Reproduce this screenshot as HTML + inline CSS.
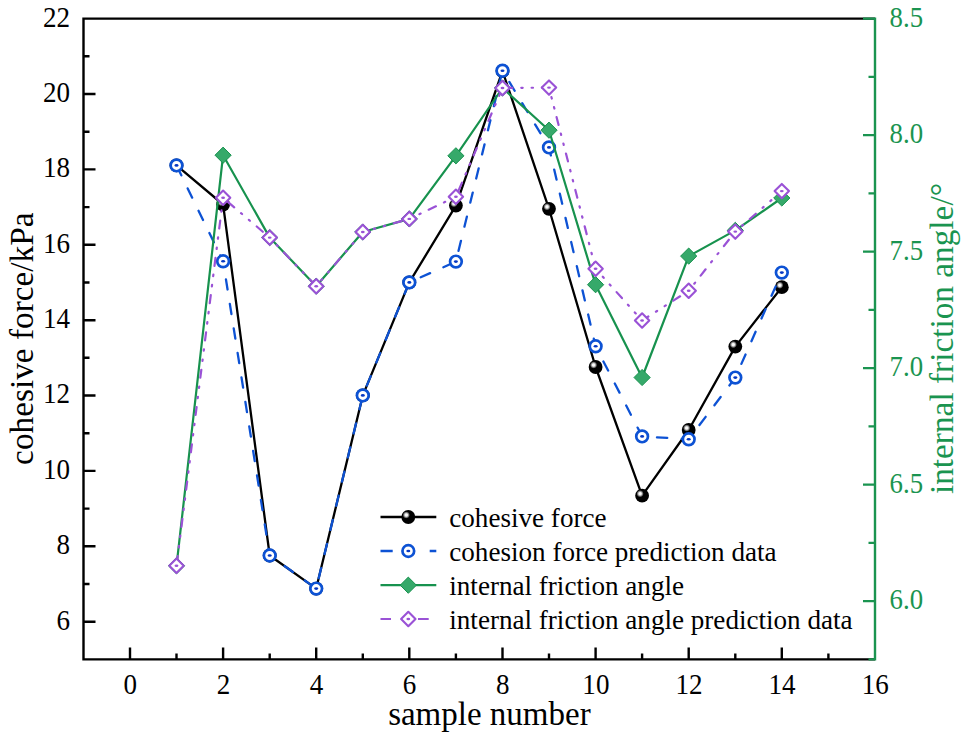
<!DOCTYPE html><html><head><meta charset="utf-8"><style>html,body{margin:0;padding:0;background:#fff;}svg{display:block;}</style></head><body>
<svg width="968" height="739" viewBox="0 0 968 739" font-family="Liberation Serif, serif">
<defs><radialGradient id="ball" cx="0.355" cy="0.355" r="0.26" fx="0.355" fy="0.355"><stop offset="0" stop-color="#fff"/><stop offset="0.35" stop-color="#f2f2f2"/><stop offset="0.7" stop-color="#7a7a7a"/><stop offset="1" stop-color="#000"/></radialGradient></defs>
<rect width="968" height="739" fill="#fff"/>
<path d="M82.3 18.6H875.0M83.5 18.6V659.4M82.3 659.4H875.0" stroke="#000" stroke-width="2.4" fill="none"/>
<path d="M83.5 621.7h12 M83.5 584.0h6 M83.5 546.3h12 M83.5 508.6h6 M83.5 470.9h12 M83.5 433.2h6 M83.5 395.5h12 M83.5 357.8h6 M83.5 320.2h12 M83.5 282.5h6 M83.5 244.8h12 M83.5 207.1h6 M83.5 169.4h12 M83.5 131.7h6 M83.5 94.0h12 M83.5 56.3h6 M130.0 659.4v-12 M176.5 659.4v-6 M223.1 659.4v-12 M269.7 659.4v-6 M316.2 659.4v-12 M362.8 659.4v-6 M409.3 659.4v-12 M455.9 659.4v-6 M502.5 659.4v-12 M549.0 659.4v-6 M595.6 659.4v-12 M642.1 659.4v-6 M688.7 659.4v-12 M735.3 659.4v-6 M781.8 659.4v-12 M828.4 659.4v-6" stroke="#000" stroke-width="2.4" fill="none"/>
<path d="M875.0 17.400000000000002V660.6 M875.0 659.4h-6.5 M875.0 601.1h-12 M875.0 542.9h-6.5 M875.0 484.6h-12 M875.0 426.4h-6.5 M875.0 368.1h-12 M875.0 309.9h-6.5 M875.0 251.6h-12 M875.0 193.4h-6.5 M875.0 135.1h-12 M875.0 76.9h-6.5 M875.0 18.6h-12" stroke="#1a9450" stroke-width="2.4" fill="none"/>
<text transform="translate(70.0 629.6) scale(0.95 1)" font-size="28.5" text-anchor="end">6</text>
<text transform="translate(70.0 554.2) scale(0.95 1)" font-size="28.5" text-anchor="end">8</text>
<text transform="translate(70.0 478.8) scale(0.95 1)" font-size="28.5" text-anchor="end">10</text>
<text transform="translate(70.0 403.4) scale(0.95 1)" font-size="28.5" text-anchor="end">12</text>
<text transform="translate(70.0 328.1) scale(0.95 1)" font-size="28.5" text-anchor="end">14</text>
<text transform="translate(70.0 252.7) scale(0.95 1)" font-size="28.5" text-anchor="end">16</text>
<text transform="translate(70.0 177.3) scale(0.95 1)" font-size="28.5" text-anchor="end">18</text>
<text transform="translate(70.0 101.9) scale(0.95 1)" font-size="28.5" text-anchor="end">20</text>
<text transform="translate(70.0 26.5) scale(0.95 1)" font-size="28.5" text-anchor="end">22</text>
<text transform="translate(130.3 693.6) scale(0.95 1)" font-size="28.5" text-anchor="middle">0</text>
<text transform="translate(223.4 693.6) scale(0.95 1)" font-size="28.5" text-anchor="middle">2</text>
<text transform="translate(316.5 693.6) scale(0.95 1)" font-size="28.5" text-anchor="middle">4</text>
<text transform="translate(409.6 693.6) scale(0.95 1)" font-size="28.5" text-anchor="middle">6</text>
<text transform="translate(502.8 693.6) scale(0.95 1)" font-size="28.5" text-anchor="middle">8</text>
<text transform="translate(595.9 693.6) scale(0.95 1)" font-size="28.5" text-anchor="middle">10</text>
<text transform="translate(689.0 693.6) scale(0.95 1)" font-size="28.5" text-anchor="middle">12</text>
<text transform="translate(782.1 693.6) scale(0.95 1)" font-size="28.5" text-anchor="middle">14</text>
<text transform="translate(875.2 693.6) scale(0.95 1)" font-size="28.5" text-anchor="middle">16</text>
<text transform="translate(889.6 609.1) scale(0.94 1)" font-size="28.5" fill="#1a9450">6.0</text>
<text transform="translate(889.6 492.6) scale(0.94 1)" font-size="28.5" fill="#1a9450">6.5</text>
<text transform="translate(889.6 376.1) scale(0.94 1)" font-size="28.5" fill="#1a9450">7.0</text>
<text transform="translate(889.6 259.6) scale(0.94 1)" font-size="28.5" fill="#1a9450">7.5</text>
<text transform="translate(889.6 143.1) scale(0.94 1)" font-size="28.5" fill="#1a9450">8.0</text>
<text transform="translate(889.6 26.6) scale(0.94 1)" font-size="28.5" fill="#1a9450">8.5</text>
<text x="489.4" y="724.6" font-size="33" text-anchor="middle">sample number</text>
<text transform="translate(32.8 338.7) rotate(-90)" font-size="33.3" text-anchor="middle">cohesive force/kPa</text>
<text transform="translate(952.7 338.55) rotate(-90)" font-size="33.3" text-anchor="middle" fill="#1a9450">internal friction angle/°</text>
<polyline points="176.5,165.4 223.1,204.5 269.7,555.5 316.2,588.6 362.8,395.4 409.3,282.4 455.9,205.6 502.5,71.0 549.0,208.8 595.6,367.0 642.1,495.7 688.7,430.0 735.3,346.6 781.8,287.2" fill="none" stroke="#000" stroke-width="2.3" stroke-linejoin="round"/>
<circle cx="176.5" cy="165.4" r="6.9" fill="url(#ball)"/><circle cx="223.1" cy="204.5" r="6.9" fill="url(#ball)"/><circle cx="269.7" cy="555.5" r="6.9" fill="url(#ball)"/><circle cx="316.2" cy="588.6" r="6.9" fill="url(#ball)"/><circle cx="362.8" cy="395.4" r="6.9" fill="url(#ball)"/><circle cx="409.3" cy="282.4" r="6.9" fill="url(#ball)"/><circle cx="455.9" cy="205.6" r="6.9" fill="url(#ball)"/><circle cx="502.5" cy="71.0" r="6.9" fill="url(#ball)"/><circle cx="549.0" cy="208.8" r="6.9" fill="url(#ball)"/><circle cx="595.6" cy="367.0" r="6.9" fill="url(#ball)"/><circle cx="642.1" cy="495.7" r="6.9" fill="url(#ball)"/><circle cx="688.7" cy="430.0" r="6.9" fill="url(#ball)"/><circle cx="735.3" cy="346.6" r="6.9" fill="url(#ball)"/><circle cx="781.8" cy="287.2" r="6.9" fill="url(#ball)"/>
<polyline points="176.5,165.4 223.1,261.3 269.7,555.5 316.2,588.6 362.8,395.4 409.3,282.4 455.9,261.6 502.5,70.7 549.0,147.4 595.6,346.3 642.1,436.4 688.7,439.3 735.3,377.6 781.8,272.6" fill="none" stroke="#0d52d4" stroke-width="2.3" stroke-dasharray="10.3 14.52" stroke-dashoffset="-0.76" stroke-linecap="round"/>
<circle cx="176.5" cy="165.4" r="5.85" fill="#fff" stroke="#0d52d4" stroke-width="2.7"/><ellipse cx="176.5" cy="165.4" rx="2" ry="1.3" fill="#0638c4"/><circle cx="223.1" cy="261.3" r="5.85" fill="#fff" stroke="#0d52d4" stroke-width="2.7"/><ellipse cx="223.1" cy="261.3" rx="2" ry="1.3" fill="#0638c4"/><circle cx="269.7" cy="555.5" r="5.85" fill="#fff" stroke="#0d52d4" stroke-width="2.7"/><ellipse cx="269.7" cy="555.5" rx="2" ry="1.3" fill="#0638c4"/><circle cx="316.2" cy="588.6" r="5.85" fill="#fff" stroke="#0d52d4" stroke-width="2.7"/><ellipse cx="316.2" cy="588.6" rx="2" ry="1.3" fill="#0638c4"/><circle cx="362.8" cy="395.4" r="5.85" fill="#fff" stroke="#0d52d4" stroke-width="2.7"/><ellipse cx="362.8" cy="395.4" rx="2" ry="1.3" fill="#0638c4"/><circle cx="409.3" cy="282.4" r="5.85" fill="#fff" stroke="#0d52d4" stroke-width="2.7"/><ellipse cx="409.3" cy="282.4" rx="2" ry="1.3" fill="#0638c4"/><circle cx="455.9" cy="261.6" r="5.85" fill="#fff" stroke="#0d52d4" stroke-width="2.7"/><ellipse cx="455.9" cy="261.6" rx="2" ry="1.3" fill="#0638c4"/><circle cx="502.5" cy="70.7" r="5.85" fill="#fff" stroke="#0d52d4" stroke-width="2.7"/><ellipse cx="502.5" cy="70.7" rx="2" ry="1.3" fill="#0638c4"/><circle cx="549.0" cy="147.4" r="5.85" fill="#fff" stroke="#0d52d4" stroke-width="2.7"/><ellipse cx="549.0" cy="147.4" rx="2" ry="1.3" fill="#0638c4"/><circle cx="595.6" cy="346.3" r="5.85" fill="#fff" stroke="#0d52d4" stroke-width="2.7"/><ellipse cx="595.6" cy="346.3" rx="2" ry="1.3" fill="#0638c4"/><circle cx="642.1" cy="436.4" r="5.85" fill="#fff" stroke="#0d52d4" stroke-width="2.7"/><ellipse cx="642.1" cy="436.4" rx="2" ry="1.3" fill="#0638c4"/><circle cx="688.7" cy="439.3" r="5.85" fill="#fff" stroke="#0d52d4" stroke-width="2.7"/><ellipse cx="688.7" cy="439.3" rx="2" ry="1.3" fill="#0638c4"/><circle cx="735.3" cy="377.6" r="5.85" fill="#fff" stroke="#0d52d4" stroke-width="2.7"/><ellipse cx="735.3" cy="377.6" rx="2" ry="1.3" fill="#0638c4"/><circle cx="781.8" cy="272.6" r="5.85" fill="#fff" stroke="#0d52d4" stroke-width="2.7"/><ellipse cx="781.8" cy="272.6" rx="2" ry="1.3" fill="#0638c4"/>
<polyline points="176.5,565.8 223.1,155.2 269.7,237.6 316.2,286.2 362.8,232.0 409.3,218.9 455.9,155.8 502.5,88.0 549.0,130.2 595.6,284.7 642.1,377.5 688.7,256.1 735.3,230.4 781.8,198.0" fill="none" stroke="#17924e" stroke-width="2.2" stroke-linejoin="round"/>
<path d="M176.5 557.7L184.6 565.8L176.5 573.9L168.4 565.8Z" fill="#36a96a" stroke="#17924e" stroke-width="1" stroke-linejoin="round"/><path d="M223.1 147.1L231.2 155.2L223.1 163.3L215.0 155.2Z" fill="#36a96a" stroke="#17924e" stroke-width="1" stroke-linejoin="round"/><path d="M269.7 229.5L277.8 237.6L269.7 245.7L261.6 237.6Z" fill="#36a96a" stroke="#17924e" stroke-width="1" stroke-linejoin="round"/><path d="M316.2 278.1L324.3 286.2L316.2 294.3L308.1 286.2Z" fill="#36a96a" stroke="#17924e" stroke-width="1" stroke-linejoin="round"/><path d="M362.8 223.9L370.9 232.0L362.8 240.1L354.7 232.0Z" fill="#36a96a" stroke="#17924e" stroke-width="1" stroke-linejoin="round"/><path d="M409.3 210.8L417.4 218.9L409.3 227.0L401.2 218.9Z" fill="#36a96a" stroke="#17924e" stroke-width="1" stroke-linejoin="round"/><path d="M455.9 147.7L464.0 155.8L455.9 163.9L447.8 155.8Z" fill="#36a96a" stroke="#17924e" stroke-width="1" stroke-linejoin="round"/><path d="M502.5 79.9L510.6 88.0L502.5 96.1L494.4 88.0Z" fill="#36a96a" stroke="#17924e" stroke-width="1" stroke-linejoin="round"/><path d="M549.0 122.1L557.1 130.2L549.0 138.3L540.9 130.2Z" fill="#36a96a" stroke="#17924e" stroke-width="1" stroke-linejoin="round"/><path d="M595.6 276.6L603.7 284.7L595.6 292.8L587.5 284.7Z" fill="#36a96a" stroke="#17924e" stroke-width="1" stroke-linejoin="round"/><path d="M642.1 369.4L650.2 377.5L642.1 385.6L634.0 377.5Z" fill="#36a96a" stroke="#17924e" stroke-width="1" stroke-linejoin="round"/><path d="M688.7 248.0L696.8 256.1L688.7 264.2L680.6 256.1Z" fill="#36a96a" stroke="#17924e" stroke-width="1" stroke-linejoin="round"/><path d="M735.3 222.3L743.4 230.4L735.3 238.5L727.2 230.4Z" fill="#36a96a" stroke="#17924e" stroke-width="1" stroke-linejoin="round"/><path d="M781.8 189.9L789.9 198.0L781.8 206.1L773.7 198.0Z" fill="#36a96a" stroke="#17924e" stroke-width="1" stroke-linejoin="round"/>
<polyline points="176.5,565.8 223.1,197.8 269.7,237.6 316.2,286.2 362.8,232.0 409.3,218.9 455.9,196.8 502.5,88.0 549.0,87.6 595.6,268.8 642.1,320.5 688.7,290.8 735.3,231.6 781.8,191.1" fill="none" stroke="#9a52d6" stroke-width="2.2" stroke-dasharray="8 8.93 1.4 8.93 1.4 8.93" stroke-dashoffset="-1.67" stroke-linecap="round"/>
<path d="M176.5 558.6L183.7 565.8L176.5 573.0L169.3 565.8Z" fill="#fff" stroke="#9a52d6" stroke-width="2.1" stroke-linejoin="round"/><ellipse cx="176.5" cy="565.8" rx="1.9" ry="1.2" fill="#9a52d6"/><path d="M223.1 190.6L230.3 197.8L223.1 205.0L215.9 197.8Z" fill="#fff" stroke="#9a52d6" stroke-width="2.1" stroke-linejoin="round"/><ellipse cx="223.1" cy="197.8" rx="1.9" ry="1.2" fill="#9a52d6"/><path d="M269.7 230.4L276.9 237.6L269.7 244.8L262.5 237.6Z" fill="#fff" stroke="#9a52d6" stroke-width="2.1" stroke-linejoin="round"/><ellipse cx="269.7" cy="237.6" rx="1.9" ry="1.2" fill="#9a52d6"/><path d="M316.2 279.0L323.4 286.2L316.2 293.4L309.0 286.2Z" fill="#fff" stroke="#9a52d6" stroke-width="2.1" stroke-linejoin="round"/><ellipse cx="316.2" cy="286.2" rx="1.9" ry="1.2" fill="#9a52d6"/><path d="M362.8 224.8L370.0 232.0L362.8 239.2L355.6 232.0Z" fill="#fff" stroke="#9a52d6" stroke-width="2.1" stroke-linejoin="round"/><ellipse cx="362.8" cy="232.0" rx="1.9" ry="1.2" fill="#9a52d6"/><path d="M409.3 211.7L416.5 218.9L409.3 226.1L402.1 218.9Z" fill="#fff" stroke="#9a52d6" stroke-width="2.1" stroke-linejoin="round"/><ellipse cx="409.3" cy="218.9" rx="1.9" ry="1.2" fill="#9a52d6"/><path d="M455.9 189.6L463.1 196.8L455.9 204.0L448.7 196.8Z" fill="#fff" stroke="#9a52d6" stroke-width="2.1" stroke-linejoin="round"/><ellipse cx="455.9" cy="196.8" rx="1.9" ry="1.2" fill="#9a52d6"/><path d="M502.5 80.8L509.7 88.0L502.5 95.2L495.3 88.0Z" fill="#fff" stroke="#9a52d6" stroke-width="2.1" stroke-linejoin="round"/><ellipse cx="502.5" cy="88.0" rx="1.9" ry="1.2" fill="#9a52d6"/><path d="M549.0 80.4L556.2 87.6L549.0 94.8L541.8 87.6Z" fill="#fff" stroke="#9a52d6" stroke-width="2.1" stroke-linejoin="round"/><ellipse cx="549.0" cy="87.6" rx="1.9" ry="1.2" fill="#9a52d6"/><path d="M595.6 261.6L602.8 268.8L595.6 276.0L588.4 268.8Z" fill="#fff" stroke="#9a52d6" stroke-width="2.1" stroke-linejoin="round"/><ellipse cx="595.6" cy="268.8" rx="1.9" ry="1.2" fill="#9a52d6"/><path d="M642.1 313.3L649.3 320.5L642.1 327.7L634.9 320.5Z" fill="#fff" stroke="#9a52d6" stroke-width="2.1" stroke-linejoin="round"/><ellipse cx="642.1" cy="320.5" rx="1.9" ry="1.2" fill="#9a52d6"/><path d="M688.7 283.6L695.9 290.8L688.7 298.0L681.5 290.8Z" fill="#fff" stroke="#9a52d6" stroke-width="2.1" stroke-linejoin="round"/><ellipse cx="688.7" cy="290.8" rx="1.9" ry="1.2" fill="#9a52d6"/><path d="M735.3 224.4L742.5 231.6L735.3 238.8L728.1 231.6Z" fill="#fff" stroke="#9a52d6" stroke-width="2.1" stroke-linejoin="round"/><ellipse cx="735.3" cy="231.6" rx="1.9" ry="1.2" fill="#9a52d6"/><path d="M781.8 183.9L789.0 191.1L781.8 198.3L774.6 191.1Z" fill="#fff" stroke="#9a52d6" stroke-width="2.1" stroke-linejoin="round"/><ellipse cx="781.8" cy="191.1" rx="1.9" ry="1.2" fill="#9a52d6"/>
<path d="M380.5 517.0H436.3" stroke="#000" stroke-width="2.3"/><circle cx="408.3" cy="517.0" r="6.9" fill="url(#ball)"/>
<path d="M380.5 551.0H392.7M429.7 551.0H436.3" stroke="#0d52d4" stroke-width="2.3"/><circle cx="408.3" cy="551.0" r="5.85" fill="#fff" stroke="#0d52d4" stroke-width="2.7"/><ellipse cx="408.3" cy="551.0" rx="2" ry="1.3" fill="#0638c4"/>
<path d="M380.5 585.2H436.3" stroke="#17924e" stroke-width="2.2"/><path d="M408.3 577.1L416.4 585.2L408.3 593.3L400.2 585.2Z" fill="#36a96a" stroke="#17924e" stroke-width="1" stroke-linejoin="round"/>
<path d="M380.5 619.0H391M418 619.0H428.7" stroke="#9a52d6" stroke-width="2.2"/><path d="M408.3 611.8L415.5 619.0L408.3 626.2L401.1 619.0Z" fill="#fff" stroke="#9a52d6" stroke-width="2.1" stroke-linejoin="round"/><ellipse cx="408.3" cy="619.0" rx="1.9" ry="1.2" fill="#9a52d6"/>
<text x="449.3" y="527.0" font-size="27.1">cohesive force</text>
<text x="449.3" y="561.0" font-size="27.1">cohesion force prediction data</text>
<text x="449.3" y="595.2" font-size="27.1">internal friction angle</text>
<text x="449.3" y="629.0" font-size="27.1">internal friction angle prediction data</text>
</svg></body></html>
